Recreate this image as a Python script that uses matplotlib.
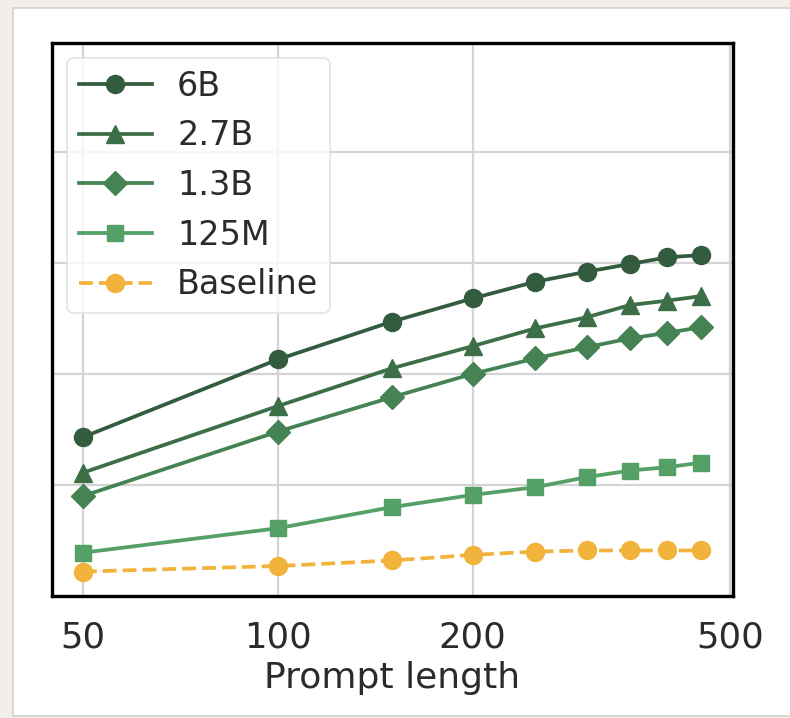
import matplotlib
matplotlib.use("Agg")
import matplotlib.pyplot as plt
from matplotlib.patches import Rectangle
from matplotlib.ticker import FixedLocator, NullFormatter, NullLocator

# Data (y in arbitrary units, one unit per gridline)
prompt_lengths = [50, 100, 150, 200, 250, 300, 350, 400, 450]
series_names = ['6B', '2.7B', '1.3B', '125M', 'Baseline']
vals_6b = [1.43, 2.13, 2.47, 2.68, 2.83, 2.92, 2.99, 3.05, 3.07]
vals_2_7b = [1.11, 1.71, 2.05, 2.25, 2.41, 2.51, 2.62, 2.66, 2.70]
vals_1_3b = [0.90, 1.48, 1.79, 2.00, 2.14, 2.24, 2.32, 2.37, 2.42]
vals_125m = [0.39, 0.61, 0.80, 0.91, 0.98, 1.07, 1.13, 1.16, 1.20]
vals_base = [0.22, 0.27, 0.32, 0.37, 0.40, 0.41, 0.41, 0.41, 0.41]
x_ticks = [50, 100, 200, 500]

all_vals = [vals_6b, vals_2_7b, vals_1_3b, vals_125m, vals_base]
colors = ['#335c3f', '#3c6e48', '#468354', '#54a067', '#f2b33d']
markers = ['o', '^', 'D', 's', 'o']
styles = ['-', '-', '-', '-', '--']
msizes = [13, 13, 12, 12, 13]

plt.rcParams['font.family'] = ['DejaVu Sans']
text_color = '#2b2b2b'

fig = plt.figure(figsize=(7.9, 7.18), dpi=100)
fig.patch.set_facecolor('#f2efea')
# white page panel behind the plot
panel = Rectangle((13 / 790, 2 / 718), 1.0, 708 / 718,
                  transform=fig.transFigure, facecolor='white',
                  edgecolor='#d6d3cf', linewidth=1.2, zorder=-10)
fig.add_artist(panel)

ax = fig.add_axes([52 / 790, (718 - 596) / 718, (733 - 52) / 790, (596 - 43) / 718])
ax.set_zorder(1)
ax.set_facecolor('white')

for name, vals, c, m, ls, ms in zip(series_names, all_vals, colors, markers, styles, msizes):
    ax.plot(prompt_lengths, vals, linestyle=ls, marker=m, color=c, label=name,
            linewidth=2.7, markersize=ms, zorder=3)

ax.set_xscale('log')
ax.set_xlim(44.8, 505)
ax.set_ylim(0, 4.98)
ax.xaxis.set_major_locator(FixedLocator(x_ticks))
ax.xaxis.set_minor_locator(NullLocator())
ax.set_xticks(x_ticks)
ax.set_xticklabels([str(t) for t in x_ticks])
ax.set_yticks([0, 1, 2, 3, 4])
ax.yaxis.set_major_formatter(NullFormatter())

ax.grid(True, color='#d4d4d4', linewidth=1.6, zorder=0)
ax.tick_params(axis='both', length=0, labelsize=25.5, labelcolor=text_color, pad=18)
for s in ax.spines.values():
    s.set_color('black')
    s.set_linewidth(2.4)

ax.set_xlabel('Prompt length', fontsize=26, color=text_color, labelpad=4)

leg = ax.legend(loc='upper left', fontsize=24, frameon=True, handlelength=2.2,
                borderpad=0.35, labelspacing=0.5, handletextpad=0.75,
                borderaxespad=0.45)
leg.get_frame().set_edgecolor('#dcdcdc')
leg.get_frame().set_linewidth(1.2)
for t in leg.get_texts():
    t.set_color(text_color)

fig.savefig('out.png', dpi=100, facecolor=fig.get_facecolor())
